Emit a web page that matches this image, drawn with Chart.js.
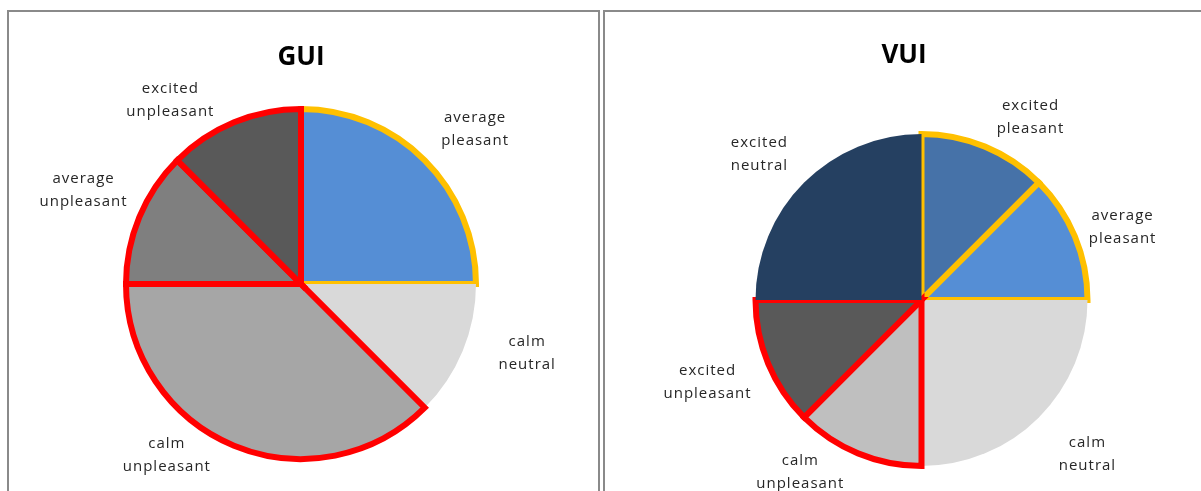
<!DOCTYPE html>
<html>
<head>
<meta charset="utf-8">
<title>GUI / VUI</title>
<script src="https://cdn.jsdelivr.net/npm/chart.js@4.4.1/dist/chart.umd.min.js"></script>
<style>
  html, body { margin: 0; padding: 0; background: #fff; overflow: hidden; width: 1201px; height: 491px; }
  .panel { position: absolute; top: 10px; height: 520px; border: 2px solid #8a8a8a; background: #fff; }
  #guiPanel { left: 7px; width: 589px; }
  #vuiPanel { left: 603px; width: 640px; }
  canvas { display: block; }
</style>
</head>
<body>
<div class="panel" id="guiPanel"><canvas id="guiChart" width="589" height="490"></canvas></div>
<div class="panel" id="vuiPanel"><canvas id="vuiChart" width="596" height="490"></canvas></div>
<script>
// GUI: share of ratings per mood category
const guiCategories = ['average pleasant', 'calm neutral', 'calm unpleasant', 'average unpleasant', 'excited unpleasant'];
const guiValues = [2, 1, 3, 1, 1];

// VUI: share of ratings per mood category
const vuiCategories = ['excited pleasant', 'average pleasant', 'calm neutral', 'calm unpleasant', 'excited unpleasant', 'excited neutral'];
const vuiValues = [1, 1, 2, 1, 1, 2];

const YELLOW = '#FFC000';
const RED = '#FF0000';

// slice fill / outline per category
const guiColors = ['#558ED5', '#D9D9D9', '#A6A6A6', '#7F7F7F', '#595959'];
const guiOutline = [YELLOW, 'rgba(0,0,0,0)', RED, RED, RED];
const guiOutlineWidth = [6, 0, 6, 6, 6];

const vuiColors = ['#4672A8', '#558ED5', '#D9D9D9', '#BFBFBF', '#595959', '#254061'];
const vuiOutline = [YELLOW, YELLOW, 'rgba(0,0,0,0)', RED, RED, 'rgba(0,0,0,0)'];
const vuiOutlineWidth = [6, 6, 0, 6, 6, 0];

// label placement: angle nudge (deg, clockwise) and distance as a multiple of the radius
const guiLabelShift = [3, -6, 16, 1.3, -12.7];
const guiLabelReach = [1.335, 1.345, 1.236, 1.361, 1.3];
const vuiLabelShift = [7.9, 2, -2.4, 13.1, 2, -2.7];
const vuiLabelReach = [1.292, 1.29, 1.354, 1.259, 1.379, 1.324];

// draws the chart heading and the two-line category labels around the pie
const pieText = {
  id: 'pieText',
  afterDatasetsDraw(chart, args, o) {
    const ctx = chart.ctx;
    ctx.save();
    ctx.fillStyle = '#000';
    ctx.font = 'bold 26px "Open Sans"';
    ctx.textAlign = 'center';
    ctx.textBaseline = 'alphabetic';
    ctx.fillText(o.title, o.titleX, o.titleY);

    ctx.font = '15px "Open Sans"';
    ctx.letterSpacing = '1px';
    ctx.fillStyle = '#262626';
    ctx.textBaseline = 'middle';
    chart.getDatasetMeta(0).data.forEach((arc, i) => {
      const p = arc.getProps(['x', 'y', 'startAngle', 'endAngle', 'outerRadius'], true);
      const a = (p.startAngle + p.endAngle) / 2 + o.shift[i] * Math.PI / 180;
      const r = p.outerRadius * o.reach[i];
      const lx = p.x + Math.cos(a) * r;
      const ly = p.y + Math.sin(a) * r + 2;
      const lines = chart.data.labels[i].split(' ');
      lines.forEach((t, j) => {
        ctx.fillText(t, lx + 0.5, ly + (j - (lines.length - 1) / 2) * 23);
      });
    });
    ctx.restore();
  }
};

const makePie = (id, categories, values, colors, outline, outlineWidth, radius, padding, text) => {
  new Chart(document.getElementById(id), {
    type: 'pie',
    data: {
      labels: categories,
      datasets: [{
        data: values,
        backgroundColor: colors,
        borderColor: outline,
        borderWidth: outlineWidth,
        borderJoinStyle: 'miter',
        borderAlign: 'center',
        radius: radius
      }]
    },
    options: {
      responsive: false,
      animation: false,
      events: [],
      layout: { padding: padding },
      plugins: {
        legend: { display: false },
        tooltip: { enabled: false },
        title: { display: false },
        pieText: text
      }
    },
    plugins: [pieText]
  });
};

makePie('guiChart', guiCategories, guiValues, guiColors, guiOutline, guiOutlineWidth, 175,
  { top: 54, right: 5, left: 0, bottom: 0 },
  { title: 'GUI', titleX: 292, titleY: 53, shift: guiLabelShift, reach: guiLabelReach });

makePie('vuiChart', vuiCategories, vuiValues, vuiColors, vuiOutline, vuiOutlineWidth, 166,
  { top: 86, left: 37, right: 0, bottom: 0 },
  { title: 'VUI', titleX: 299, titleY: 51, shift: vuiLabelShift, reach: vuiLabelReach });
</script>
</body>
</html>
